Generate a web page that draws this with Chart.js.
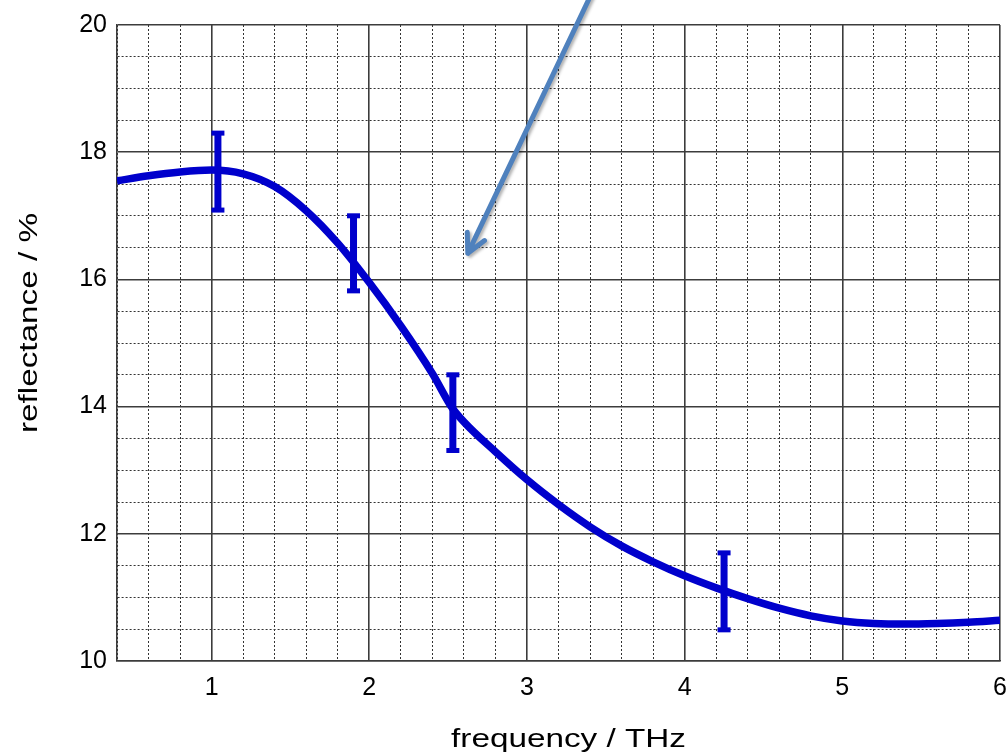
<!DOCTYPE html>
<html>
<head>
<meta charset="utf-8">
<script src="https://cdn.jsdelivr.net/npm/chart.js@4.4.0/dist/chart.umd.min.js"></script>
<style>
  html, body { margin: 0; padding: 0; background: #fff; }
</style>
</head>
<body>
<canvas id="chart" width="1007" height="755"></canvas>
<script>
// Fitted reflectance curve
const freq = [0.4, 0.6, 0.8, 1.0, 1.2, 1.4, 1.6, 1.8, 2.0, 2.2, 2.4, 2.52, 2.6, 2.8, 3.0,
  3.2, 3.4, 3.6, 3.8, 4.0, 4.2, 4.4, 4.6, 4.8, 5.0, 5.2, 5.4, 5.6, 5.8, 6.0];
const refl = [17.55, 17.63, 17.69, 17.72, 17.66, 17.46, 17.08, 16.57, 15.95, 15.27, 14.52,
  14.0, 13.76, 13.29, 12.85, 12.46, 12.11, 11.81, 11.56, 11.34, 11.15, 10.98, 10.83,
  10.71, 10.63, 10.59, 10.58, 10.59, 10.61, 10.64];

// Measured points with their error bars
const errFreq = [1.04, 1.9, 2.53, 4.25];
const errLow = [17.09, 15.82, 13.31, 10.49];
const errHigh = [18.3, 17.0, 14.5, 11.7];

// Arrow pointing into the plot (start runs off the top of the picture)
const arrowFrom = [3.43, 20.6];
const arrowTo = [2.625, 16.41];

const xTickLabels = [1, 2, 3, 4, 5, 6];
const yTickLabels = [10, 12, 14, 16, 18, 20];
const xTitle = "frequency / THz";
const yTitle = "reflectance / %";

const FONT = '"Liberation Sans", Arial, sans-serif';
const BLUE = "#0000cc";

function isMajorX(tick) {
  return tick && Math.abs(tick.value - Math.round(tick.value)) < 1e-6;
}
function isMajorY(tick) {
  return tick && Math.abs(tick.value / 2 - Math.round(tick.value / 2)) < 1e-6;
}

// Error bars, titles and the arrow are drawn here
const extras = {
  id: "extras",
  afterDatasetsDraw(chart) {
    const ctx = chart.ctx;
    const xs = chart.scales.x;
    const ys = chart.scales.y;
    ctx.save();
    ctx.fillStyle = BLUE;
    errFreq.forEach((f, i) => {
      const px = xs.getPixelForValue(f);
      const top = ys.getPixelForValue(errHigh[i]);
      const bot = ys.getPixelForValue(errLow[i]);
      ctx.fillRect(px - 3.5, top, 7, bot - top);
      ctx.fillRect(px - 6.5, top - 2.5, 13, 5);
      ctx.fillRect(px - 6.5, bot - 2.5, 13, 5);
    });
    ctx.restore();
  },
  afterDraw(chart) {
    const ctx = chart.ctx;
    const xs = chart.scales.x;
    const ys = chart.scales.y;
    const area = chart.chartArea;

    // axis titles (the original text is drawn wide)
    ctx.save();
    ctx.font = "26px " + FONT;
    ctx.fillStyle = "#000";
    ctx.textAlign = "center";
    ctx.textBaseline = "alphabetic";
    ctx.translate((area.left + area.right) / 2 + 10, 747);
    ctx.scale(1.28, 1);
    ctx.fillText(xTitle, 0, 0);
    ctx.restore();

    ctx.save();
    ctx.font = "26px " + FONT;
    ctx.fillStyle = "#000";
    ctx.textAlign = "center";
    ctx.textBaseline = "alphabetic";
    ctx.translate(37, (area.top + area.bottom) / 2 - 20);
    ctx.rotate(-Math.PI / 2);
    ctx.scale(1.28, 1);
    ctx.fillText(yTitle, 0, 0);
    ctx.restore();

    // arrow
    const x1 = xs.getPixelForValue(arrowFrom[0]);
    const y1 = ys.getPixelForValue(arrowFrom[1]);
    const x2 = xs.getPixelForValue(arrowTo[0]);
    const y2 = ys.getPixelForValue(arrowTo[1]);
    const back = Math.atan2(y1 - y2, x1 - x2);
    const head = 21;
    const spread = 27 * Math.PI / 180;
    ctx.save();
    ctx.strokeStyle = "#4f81bd";
    ctx.lineWidth = 5;
    ctx.lineCap = "round";
    ctx.lineJoin = "round";
    ctx.shadowColor = "rgba(0,0,0,0.3)";
    ctx.shadowBlur = 3;
    ctx.shadowOffsetX = 2;
    ctx.shadowOffsetY = 2;
    ctx.beginPath();
    ctx.moveTo(x1, y1);
    ctx.lineTo(x2, y2);
    ctx.moveTo(x2 + head * Math.cos(back - spread), y2 + head * Math.sin(back - spread));
    ctx.lineTo(x2, y2);
    ctx.lineTo(x2 + head * Math.cos(back + spread), y2 + head * Math.sin(back + spread));
    ctx.stroke();
    ctx.restore();
  }
};

const points = freq.map((f, i) => ({ x: f, y: refl[i] }));

new Chart(document.getElementById("chart"), {
  type: "scatter",
  data: {
    datasets: [
      {
        data: points,
        showLine: true,
        borderColor: BLUE,
        borderWidth: 7.5,
        pointRadius: 0,
        cubicInterpolationMode: "monotone",
      },
    ],
  },
  options: {
    responsive: false,
    animation: false,
    devicePixelRatio: 1,
    layout: { padding: { top: 25, right: 7, left: 0, bottom: 0 } },
    plugins: {
      legend: { display: false },
      tooltip: { enabled: false },
    },
    scales: {
      x: {
        type: "linear",
        min: 0.4,
        max: 6,
        afterBuildTicks(scale) {
          const ticks = [];
          for (let i = 0; i <= 28; i++) {
            ticks.push({ value: Math.round((0.4 + 0.2 * i) * 10) / 10 });
          }
          scale.ticks = ticks;
        },
        afterFit(scale) {
          scale.height = 94;
          // the last label may hang past the frame, as in the original
          scale.paddingLeft = 0;
          scale.paddingRight = 0;
        },
        ticks: {
          autoSkip: false,
          maxRotation: 0,
          padding: 12,
          color: "#000",
          font: { family: FONT, size: 25 },
          callback: (v) => (xTickLabels.includes(v) ? String(v) : ""),
        },
        grid: {
          drawTicks: false,
          color: (c) => (isMajorX(c.tick) ? "#3c3c3c" : "#333"),
          lineWidth: (c) => (isMajorX(c.tick) ? 1.6 : 1),
        },
        border: {
          display: true,
          color: "#3c3c3c",
          width: 1.6,
          dash: (c) => (c.tick && !isMajorX(c.tick) ? [2, 2] : []),
        },
      },
      y: {
        min: 10,
        max: 20,
        afterBuildTicks(scale) {
          const ticks = [];
          for (let i = 0; i <= 20; i++) {
            ticks.push({ value: 10 + 0.5 * i });
          }
          scale.ticks = ticks;
        },
        afterFit(scale) {
          scale.width = 117;
        },
        ticks: {
          autoSkip: false,
          padding: 10,
          color: "#000",
          font: { family: FONT, size: 25 },
          callback: (v) => (yTickLabels.includes(v) ? String(v) : ""),
        },
        grid: {
          drawTicks: false,
          color: (c) => (isMajorY(c.tick) ? "#3c3c3c" : "#333"),
          lineWidth: (c) => (isMajorY(c.tick) ? 1.6 : 1),
        },
        border: {
          display: true,
          color: "#3c3c3c",
          width: 1.6,
          dash: (c) => (c.tick && !isMajorY(c.tick) ? [2, 2] : []),
        },
      },
    },
  },
  plugins: [extras],
});
</script>
</body>
</html>
